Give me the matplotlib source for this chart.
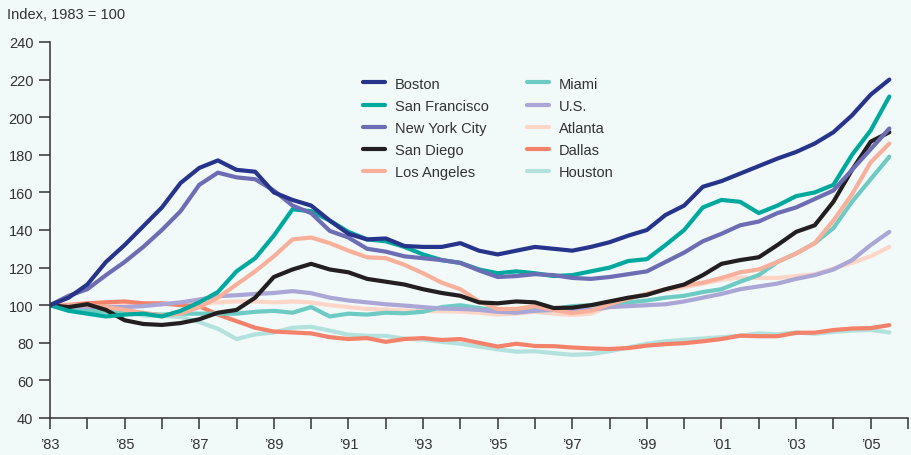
import matplotlib
matplotlib.use("Agg")
import matplotlib.pyplot as plt
from matplotlib import font_manager
from matplotlib.lines import Line2D
import numpy as np

# half-yearly readings, 1983.0 .. 2005.5
years = np.arange(1983.0, 2006.0, 0.5)

boston = [100, 104, 111, 123, 132, 142, 152, 165, 173, 177, 172, 171,
          160, 156, 153, 145, 138, 135, 135.5, 131.5, 131, 131, 133, 129, 127,
          129, 131, 130, 129, 131, 133.5, 137, 140, 148, 153,
          163, 166, 170, 174, 178, 181.5, 186, 192, 201, 212, 220]
san_francisco = [100, 97, 95.5, 94, 95, 95.5, 94, 97, 101.5, 107, 118, 125,
                 137, 151, 150, 145, 139, 135, 134, 131, 127, 124, 122.5, 119, 117,
                 118, 117, 115.5, 116, 118, 120, 123.5, 124.5, 132, 140,
                 152, 156, 155, 149, 153, 158, 160, 164, 180, 193, 211]
new_york = [100, 105, 108.5, 116, 123, 131, 140, 150, 164, 170.5, 168, 167,
            161, 153, 149, 139.5, 136, 130, 128.5, 126, 125, 124, 122.5, 118.5, 115,
            115.5, 116.5, 116, 114.5, 114, 115, 116.5, 118, 123, 128,
            134, 138, 142.5, 144.5, 149, 152, 156.5, 161, 172, 183, 194]
san_diego = [100, 99, 100.5, 97.5, 92, 90, 89.5, 90.5, 92.5, 96, 97.5, 104,
             115, 119, 122, 119, 117.5, 114, 112.5, 111, 108.5, 106.5, 105, 101.5, 101,
             102, 101.5, 98.5, 98.7, 100, 102, 104, 105.5, 108.5, 111,
             116, 122, 124, 125.5, 132, 139, 142.5, 155, 172, 187, 192]
los_angeles = [100, 100, 100, 99, 97.5, 96, 94.5, 95.5, 99, 104, 111, 118,
               126, 135, 136, 133, 129, 125.5, 125, 121.5, 117, 112, 108.5, 102, 98,
               98, 99.5, 97.5, 95.8, 97, 100.5, 103.5, 106, 108.5, 110.5,
               112, 114.5, 117.5, 119, 123, 127.5, 133, 145, 159, 176, 186]
miami = [100, 97.5, 97, 96.5, 96, 95.5, 95, 95.5, 95.5, 95.5, 95.5, 96.5,
         97, 96, 99, 94, 95.5, 95, 96, 95.7, 96.5, 99, 100, 98.5, 97,
         97.5, 97.5, 98, 99.5, 100, 100.5, 101.5, 102.5, 104, 105,
         107, 108.5, 112.5, 116, 123, 127.5, 133, 141, 155, 167, 179]
us = [100, 99.5, 99, 99, 99, 99.5, 100.5, 101.5, 103, 104.8, 105.3, 106,
      106.5, 107.5, 106.4, 104, 102.5, 101.5, 100.5, 99.8, 99, 98.2, 98, 97.5, 96.5,
      96, 97, 97.5, 97, 97.5, 99, 99.5, 100, 100.5, 102,
      104, 106, 108.5, 110, 111.5, 114, 116, 119, 124, 132, 139]
atlanta = [100, 100.5, 101, 101.5, 101, 101, 100.5, 100.5, 101, 101.5, 102, 102,
           101.5, 102, 101.5, 100, 99, 98, 97.7, 97.2, 97, 96.8, 96.6, 96, 95,
           95.5, 96.5, 95.5, 94.8, 95.5, 99.5, 103.5, 106, 108, 109.5,
           111.5, 113.5, 114.7, 114.5, 114.5, 115.5, 116.5, 119.5, 122.5, 126, 131]
dallas = [100, 100, 101, 101.5, 102, 101, 101, 100, 99.5, 95, 91.5, 88,
          86, 85.5, 85, 83, 82, 82.5, 80.5, 82, 82.5, 81.5, 82, 80, 78,
          79.5, 78.3, 78.2, 77.5, 77, 76.7, 77.2, 78.5, 79.3, 79.8,
          80.8, 82, 83.8, 83.5, 83.5, 85.3, 85.4, 86.8, 87.6, 87.8, 89.4]
houston = [100, 99, 100.5, 100, 97, 94.5, 94.3, 93.8, 91, 87.5, 82, 84.5,
           85.5, 88, 88.5, 86.5, 84.3, 83.7, 83.7, 82.2, 81.7, 80.5, 79.5, 78, 76.5,
           75.3, 75.5, 74.5, 73.6, 74, 75.5, 77.5, 79.5, 80.8, 81.6,
           82.3, 83, 83.7, 85, 84.5, 85.5, 84.8, 85.8, 86.5, 86.8, 85.5]

tick_years = list(range(1983, 2007))
tick_labels = ["\u2019%02d" % (y % 100) if (y % 2 == 1 and y < 2006) else "" for y in tick_years]

col1 = ["Boston", "San Francisco", "New York City", "San Diego", "Los Angeles"]
col2 = ["Miami", "U.S.", "Atlanta", "Dallas", "Houston"]

series = {
    "Boston": boston, "San Francisco": san_francisco, "New York City": new_york,
    "San Diego": san_diego, "Los Angeles": los_angeles, "Miami": miami,
    "U.S.": us, "Atlanta": atlanta, "Dallas": dallas, "Houston": houston,
}
colors = {
    "Boston": "#27348b", "San Francisco": "#00a99d", "New York City": "#6d6db4",
    "San Diego": "#231f20", "Los Angeles": "#f9b09a", "Miami": "#6dcbc3",
    "U.S.": "#aaa6d5", "Atlanta": "#fdd6c8", "Dallas": "#f4826a", "Houston": "#b3e1de",
}
draw_order = ["Houston", "Atlanta", "Dallas", "Miami", "U.S.", "Los Angeles",
              "San Diego", "San Francisco", "New York City", "Boston"]

installed = {f.name for f in font_manager.fontManager.ttflist}
family = "Liberation Sans Narrow" if "Liberation Sans Narrow" in installed else "Liberation Sans"
plt.rcParams["font.family"] = [family, "DejaVu Sans"]
plt.rcParams["font.size"] = 10.5

BG = "#f1f9f9"
INK = "#333333"

fig = plt.figure(figsize=(9.12, 4.56), dpi=100, facecolor=BG)
ax = fig.add_axes([50 / 912, 1 - 419 / 456, 858 / 912, 376 / 456], facecolor=BG)

for name in draw_order:
    ax.plot(years, series[name], color=colors[name], lw=3.0,
            solid_capstyle="round", solid_joinstyle="round")

ax.set_xlim(1983, 2006)
ax.set_ylim(40, 240)
ax.set_yticks(range(40, 241, 20))
ax.set_xticks(tick_years)
ax.set_xticklabels(tick_labels)
for s in ("top", "right"):
    ax.spines[s].set_visible(False)
for s in ("left", "bottom"):
    ax.spines[s].set_color(INK)
    ax.spines[s].set_linewidth(1.1)
ax.tick_params(axis="both", direction="out", length=8, width=1.1, color=INK,
               labelcolor=INK, labelsize=10.5)
ax.tick_params(axis="x", pad=6)
ax.tick_params(axis="y", pad=4)

fig.text(7 / 912, 1 - 15 / 456, "Index, 1983 = 100", color=INK, fontsize=10.5,
         ha="left", va="center")


def make_legend(names, x):
    handles = [Line2D([], [], color=colors[n], lw=3.0, solid_capstyle="round") for n in names]
    return ax.legend(handles, names, loc="upper left", bbox_to_anchor=(x, 0.908),
                     frameon=False, handlelength=1.5, handletextpad=0.7,
                     labelspacing=0.55, borderpad=0, borderaxespad=0,
                     fontsize=10.5, labelcolor=INK)


leg1 = make_legend(col1, (363 - 50) / 858)
ax.add_artist(leg1)
make_legend(col2, (527 - 50) / 858)

fig.savefig("out.png", dpi=100, facecolor=BG)
